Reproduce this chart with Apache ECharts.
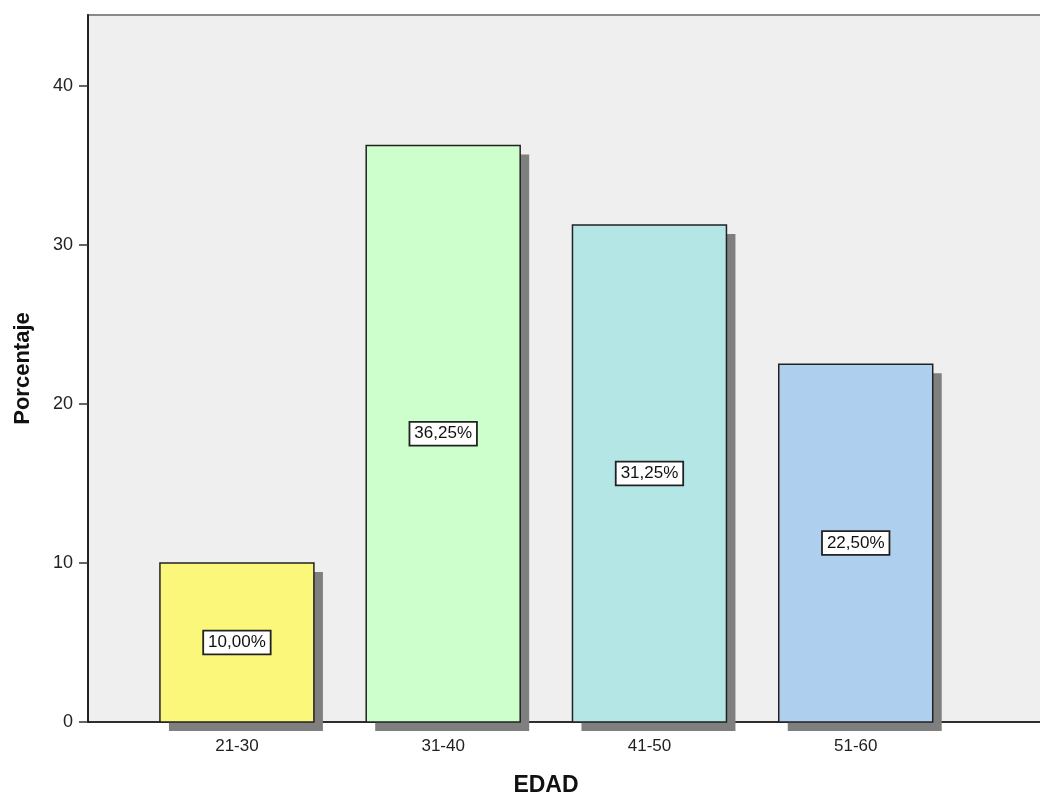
<!DOCTYPE html>
<html>
<head>
<meta charset="utf-8">
<script src="https://cdn.jsdelivr.net/npm/echarts@6/dist/echarts.min.js"></script>
<style>html,body{margin:0;padding:0;background:#fff}#c{width:1040px;height:798px}</style>
</head>
<body>
<div id="c"></div>
<script>
const categories = ['21-30', '31-40', '41-50', '51-60'];
const values = [10.00, 36.25, 31.25, 22.50];
const yTicks = [0, 10, 20, 30, 40];
const barColors = ['#faf77b', '#ccffcc', '#b5e6e6', '#aecfed'];

const positions = categories.map((c, i) => i + 1);
const seriesData = values.map((v, i) => [positions[i], v]);
const fmt = v => v.toFixed(2).replace('.', ',') + '%';
const FONT = '"Liberation Sans", Arial, sans-serif';

const chart = echarts.init(document.getElementById('c'), null, {renderer: 'canvas'});
chart.setOption({
  animation: false,
  backgroundColor: '#ffffff',
  grid: {
    left: 88, top: 15, right: -22, bottom: 76,
    outerBoundsMode: 'none', containLabel: false,
    show: true, backgroundColor: '#efefef', borderColor: '#8a8a8a', borderWidth: 2
  },
  xAxis: {
    type: 'value', min: 0.278, max: 5,
    name: 'EDAD', nameLocation: 'middle', nameGap: 52,
    nameTextStyle: {fontFamily: FONT, fontSize: 23, fontWeight: 'bold', color: '#111', padding: [0, 58, 0, 0]},
    axisLine: {show: true, onZero: false, lineStyle: {color: '#111', width: 1.5}},
    axisTick: {show: true, length: 3, customValues: positions, lineStyle: {color: '#111'}},
    axisLabel: {
      customValues: positions, margin: 16, fontFamily: FONT, fontSize: 17, color: '#222',
      formatter: v => categories[Math.round(v) - 1] || ''
    },
    splitLine: {show: false}
  },
  yAxis: {
    type: 'value', min: 0, max: 44.45, interval: 10,
    name: 'Porcentaje', nameLocation: 'middle', nameGap: 54,
    nameTextStyle: {fontFamily: FONT, fontSize: 22, fontWeight: 'bold', color: '#111'},
    axisLine: {show: true, lineStyle: {color: '#222', width: 2}},
    axisTick: {show: true, length: 9, customValues: yTicks, lineStyle: {color: '#333', width: 1.5}},
    axisLabel: {customValues: yTicks, margin: 15, fontFamily: FONT, fontSize: 18, color: '#222'},
    splitLine: {show: false}
  },
  series: [{
    type: 'custom',
    data: seriesData,
    clip: false,
    renderItem: function (params, api) {
      const x = api.value(0), v = api.value(1);
      const p0 = api.coord([x, 0]);
      const p1 = api.coord([x, v]);
      const w = api.size([0.7465, 0])[0];
      const h = p0[1] - p1[1];
      const left = p0[0] - w / 2;
      const idx = params.dataIndex;
      return {
        type: 'group',
        children: [
          {type: 'rect', shape: {x: left + 9, y: p1[1] + 9, width: w, height: h}, style: {fill: '#7f7f7f'}},
          {type: 'rect', shape: {x: left, y: p1[1], width: w, height: h},
           style: {fill: barColors[idx], stroke: '#222', lineWidth: 1.5}},
          {type: 'text', x: p0[0], y: (p0[1] + p1[1]) / 2,
           style: {text: fmt(v), align: 'center', verticalAlign: 'middle',
             fontFamily: FONT, fontSize: 17, fill: '#111',
             backgroundColor: '#ffffff', borderColor: '#222', borderWidth: 1.8, padding: [3, 4, 2, 4]}}
        ]
      };
    }
  }]
});
</script>
</body>
</html>
